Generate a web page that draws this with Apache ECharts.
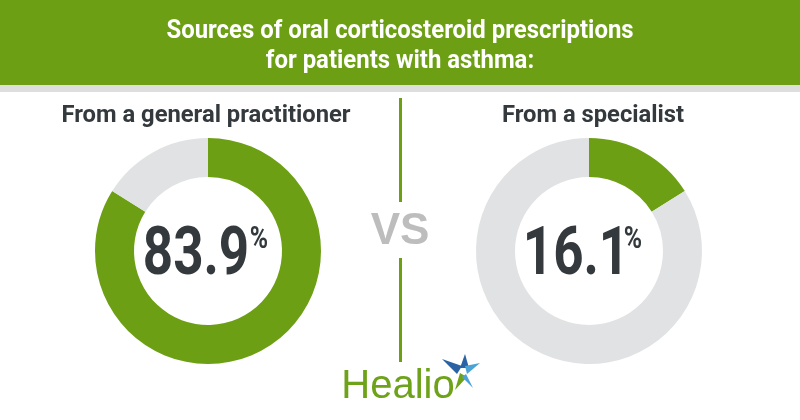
<!DOCTYPE html>
<html>
<head>
<meta charset="utf-8">
<script src="https://cdn.jsdelivr.net/npm/echarts@6/dist/echarts.min.js"></script>
<style>
html,body{margin:0;padding:0;background:#fff;}
#chart{width:800px;height:420px;}
</style>
</head>
<body>
<div id="chart"></div>
<script>
const titleLines = ['Sources of oral corticosteroid prescriptions', 'for patients with asthma:'];
const categories = ['From a general practitioner', 'From a specialist'];
const shareValues = [83.9, 16.1];
const remainderValues = [16.1, 83.9];
const centersX = [208, 589];

const GREEN = '#6c9f14';
const GRAY = '#e1e2e3';
const DARK = '#33393c';

const chart = echarts.init(document.getElementById('chart'), null, {renderer: 'canvas'});

const series = categories.map((c, i) => ({
  type: 'pie',
  name: c,
  center: [centersX[i], 251],
  radius: [74, 113],
  startAngle: 90,
  clockwise: true,
  silent: true,
  label: {show: false},
  labelLine: {show: false},
  emphasis: {disabled: true},
  itemStyle: {borderWidth: 0},
  data: [
    {value: shareValues[i], name: 'share', itemStyle: {color: GREEN}},
    {value: remainderValues[i], name: 'rest', itemStyle: {color: GRAY}}
  ]
}));

const graphic = [
  {type: 'rect', shape: {x: 0, y: 0, width: 800, height: 85}, style: {fill: GREEN}, silent: true},
  {type: 'rect', shape: {x: 0, y: 85, width: 800, height: 7}, style: {fill: '#dedede'}, silent: true},
  {type: 'text', x: 400, y: 31, scaleX: 0.92, style: {text: titleLines[0], fill: '#fff', font: 'bold 26px Roboto', textAlign: 'center', textVerticalAlign: 'middle'}},
  {type: 'text', x: 400, y: 61, scaleX: 0.92, style: {text: titleLines[1], fill: '#fff', font: 'bold 26px Roboto', textAlign: 'center', textVerticalAlign: 'middle'}},
  {type: 'rect', shape: {x: 399, y: 98, width: 3, height: 104}, style: {fill: GREEN}},
  {type: 'rect', shape: {x: 399, y: 258, width: 3, height: 104}, style: {fill: GREEN}},
  {type: 'text', x: 400, y: 232, style: {text: 'VS', fill: '#bdbdbd', font: 'bold 44px "Liberation Sans"', textAlign: 'center', textVerticalAlign: 'middle'}},
  {type: 'text', x: 398, y: 387, style: {text: 'Healio', fill: '#6ea21a', font: '40px "Liberation Sans"', textAlign: 'center', textVerticalAlign: 'middle'}},
  // star logo
  {type: 'polygon', shape: {points: [[442, 359], [462, 366], [457, 374]]}, style: {fill: '#2a62a3'}},
  {type: 'polygon', shape: {points: [[465, 354], [469, 368], [460, 368]]}, style: {fill: '#2a62a3'}},
  {type: 'polygon', shape: {points: [[480, 363], [467, 374], [465, 366]]}, style: {fill: '#4aa3d4'}},
  {type: 'polygon', shape: {points: [[455, 390], [460, 373], [467, 377]]}, style: {fill: '#6ea21a'}},
  {type: 'polygon', shape: {points: [[473, 388], [466, 374], [462, 377]]}, style: {fill: '#4aa3d4'}}
];

categories.forEach((c, i) => {
  graphic.push({type: 'text', x: [206, 593][i], y: 116, scaleX: 0.99, style: {text: c, fill: DARK, font: 'bold 24px Roboto', textAlign: 'center', textVerticalAlign: 'middle'}});
  const numText = shareValues[i].toFixed(1);
  const cx = [196, 576][i];
  graphic.push({type: 'text', x: cx, y: 257, scaleX: 0.79, style: {text: numText, fill: DARK, font: 'bold 67px Roboto', textAlign: 'center', textVerticalAlign: 'middle'}});
  graphic.push({type: 'text', x: [259, 633][i], y: 240, scaleX: 0.8, style: {text: '%', fill: DARK, font: 'bold 31px Roboto', textAlign: 'center', textVerticalAlign: 'middle'}});
});

chart.setOption({
  animation: false,
  backgroundColor: '#fff',
  series: series,
  graphic: graphic
});
</script>
</body>
</html>
